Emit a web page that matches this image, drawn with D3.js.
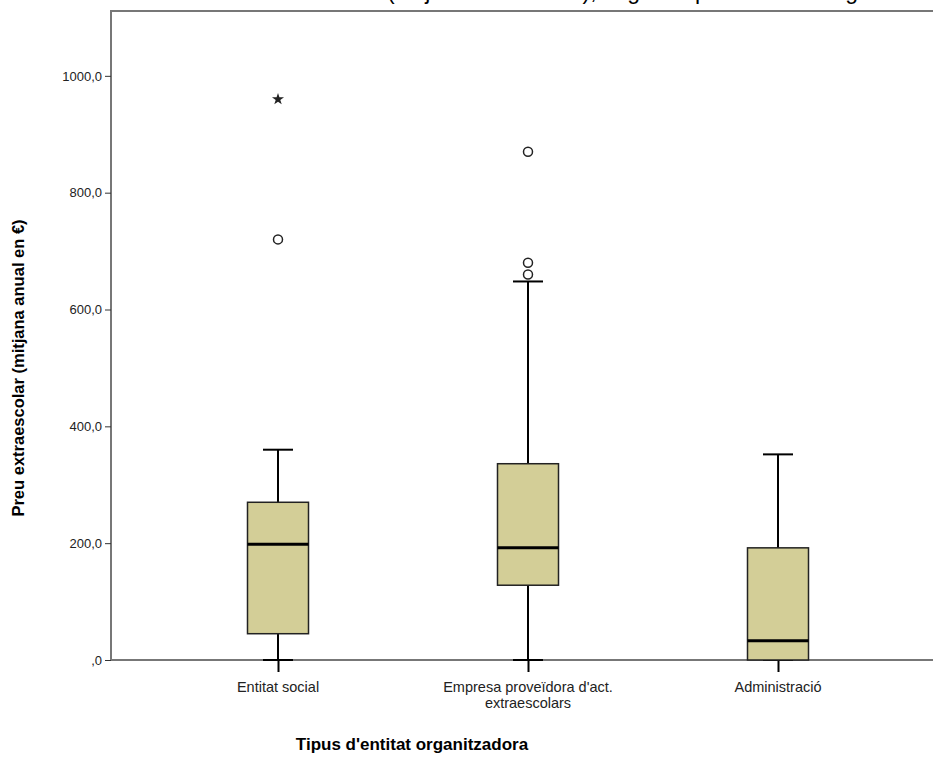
<!DOCTYPE html>
<html><head><meta charset="utf-8">
<script src="https://cdn.jsdelivr.net/npm/d3@7"></script>
<style>body{margin:0;background:#fff}text{font-family:Arial,"Liberation Sans",sans-serif}</style>
</head><body>
<script>
var categories = ['Entitat social', "Empresa proveïdora d'act. extraescolars", 'Administració'];
var q1 = [45, 128, 0];
var medians = [198, 192, 33];
var q3 = [270, 336, 192];
var whiskLo = [0, 0, 0];
var whiskHi = [360, 648, 352];
var outliers = [[{v: 720, t: 'o'}, {v: 960, t: '*'}], [{v: 660, t: 'o'}, {v: 680, t: 'o'}, {v: 870, t: 'o'}], []];
var yTicks = [0, 200, 400, 600, 800, 1000];

var width = 933, height = 758,
    margins = {top: 11, right: 0, bottom: 98, left: 111};

var svg = d3.select('body').append('svg')
    .attr('width', width).attr('height', height);

var x = d3.scalePoint().domain(categories)
    .range([278, 778]);
var y = d3.scaleLinear().domain([0, 1111])
    .range([height - margins.bottom, margins.top]);

// title, clipped by the top of the image
svg.append('text').attr('x', 387).attr('y', -1).attr('font-size', 23)
    .text("(mitjana anual en €), segons tipus d'entitat organitzadora");

svg.append('rect').attr('x', margins.left).attr('y', margins.top)
    .attr('width', width - margins.left + 5).attr('height', y(0) - margins.top)
    .attr('fill', '#fff').attr('stroke', '#777').attr('stroke-width', 2);

var yAxis = svg.append('g').attr('transform', 'translate(' + margins.left + ',0)')
    .call(d3.axisLeft(y).tickValues(yTicks).tickSize(6)
      .tickFormat(function (d) { return d === 0 ? ',0' : d + ',0'; }));
yAxis.select('.domain').remove();
yAxis.selectAll('text').attr('font-size', 13).attr('fill', '#222');
yAxis.selectAll('line').attr('stroke', '#333');

var xAxis = svg.append('g').attr('transform', 'translate(0,' + y(0) + ')')
    .call(d3.axisBottom(x).tickSize(12).tickFormat(''));
xAxis.select('.domain').remove();
xAxis.selectAll('line').attr('stroke', '#000').attr('stroke-width', 2);

var labels = [['Entitat social'], ["Empresa proveïdora d'act.", 'extraescolars'], ['Administració']];
categories.forEach(function (c, i) {
  var t = svg.append('text').attr('x', x(c)).attr('y', 692)
      .attr('text-anchor', 'middle').attr('font-size', 14.5).attr('fill', '#222');
  labels[i].forEach(function (l, j) {
    t.append('tspan').attr('x', x(c)).attr('dy', j ? 16 : 0).text(l);
  });
});

svg.append('text').attr('x', 412).attr('y', 750).attr('text-anchor', 'middle')
    .attr('font-size', 17).attr('font-weight', 'bold').text("Tipus d'entitat organitzadora");
svg.append('text').attr('transform', 'translate(24,' + 368 + ') rotate(-90)')
    .attr('text-anchor', 'middle').attr('font-size', 16.5).attr('font-weight', 'bold')
    .text('Preu extraescolar (mitjana anual en €)');

var bw = 61, cw = 30;
var g = svg.selectAll('.box').data(categories).enter().append('g');
g.append('line').attr('x1', x).attr('x2', x)
    .attr('y1', function (d, i) { return y(whiskHi[i]); })
    .attr('y2', function (d, i) { return y(whiskLo[i]); })
    .attr('stroke', '#000').attr('stroke-width', 2);
[whiskHi, whiskLo].forEach(function (arr) {
  g.append('line').attr('x1', function (d) { return x(d) - cw / 2; })
      .attr('x2', function (d) { return x(d) + cw / 2; })
      .attr('y1', function (d, i) { return y(arr[i]); })
      .attr('y2', function (d, i) { return y(arr[i]); })
      .attr('stroke', '#000').attr('stroke-width', 2);
});
g.append('rect').attr('x', function (d) { return x(d) - bw / 2; }).attr('width', bw)
    .attr('y', function (d, i) { return y(q3[i]); })
    .attr('height', function (d, i) { return y(q1[i]) - y(q3[i]); })
    .attr('fill', '#d3ce97').attr('stroke', '#222').attr('stroke-width', 1.5);
g.append('line').attr('x1', function (d) { return x(d) - bw / 2; })
    .attr('x2', function (d) { return x(d) + bw / 2; })
    .attr('y1', function (d, i) { return y(medians[i]); })
    .attr('y2', function (d, i) { return y(medians[i]); })
    .attr('stroke', '#000').attr('stroke-width', 3);

categories.forEach(function (c, i) {
  outliers[i].forEach(function (o) {
    if (o.t === 'o') {
      svg.append('circle').attr('cx', x(c)).attr('cy', y(o.v)).attr('r', 4.5)
          .attr('fill', '#fff').attr('stroke', '#222').attr('stroke-width', 1.5);
    } else {
      svg.append('path').attr('transform', 'translate(' + x(c) + ',' + y(o.v) + ')')
          .attr('d', d3.symbol(d3.symbolStar, 45)()).attr('fill', '#222');
    }
  });
});
</script>
</body></html>
